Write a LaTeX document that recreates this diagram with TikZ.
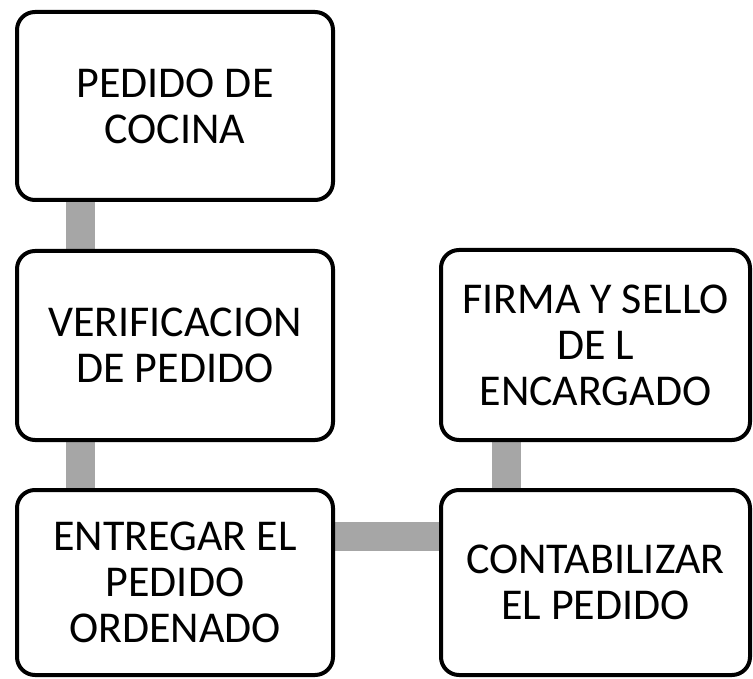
\documentclass[tikz,border=0pt]{standalone}
\usepackage{fontspec}
\setmainfont{Carlito}
\usetikzlibrary{backgrounds}
\definecolor{conngray}{HTML}{A6A6A6}
\tikzset{
  box/.style={draw=black, line width=4pt, rounded corners=18pt, fill=white,
    inner sep=0pt, align=center, font=\fontsize{44}{46}\selectfont},
  conn/.style={draw=conngray, line width=29pt}
}
\begin{document}
\begin{tikzpicture}[x=1pt,y=-1pt]
\useasboundingbox (0,0) rectangle (753,679);
\node[box, minimum width=316pt, minimum height=188pt] (b1) at (175,106) {PEDIDO DE\\COCINA};
\node[box, minimum width=316pt, minimum height=189pt] (b2) at (175,345.5) {VERIFICACION\\DE PEDIDO};
\node[box, minimum width=316pt, minimum height=185pt] (b3) at (175,582.5) {ENTREGAR EL\\PEDIDO\\ORDENADO};
\node[box, minimum width=309pt, minimum height=190pt] (b4) at (595.5,345) {FIRMA Y SELLO\\DE L\\ENCARGADO};
\node[box, minimum width=309pt, minimum height=185pt] (b5) at (595.5,582.5) {CONTABILIZAR\\EL PEDIDO};
\begin{pgfonlayer}{background}
\fill[white] (0,0) rectangle (753,679);
\draw[conn] ([xshift=-94.5pt]b1.south) -- ([xshift=-94.5pt]b2.north);
\draw[conn] ([xshift=-94.5pt]b2.south) -- ([xshift=-94.5pt]b3.north);
\draw[conn] ([yshift=46.5pt]b3.east) -- ([yshift=46.5pt]b5.west);
\draw[conn] ([xshift=-89.5pt]b4.south) -- ([xshift=-89.5pt]b5.north);
\end{pgfonlayer}
\end{tikzpicture}
\end{document}
